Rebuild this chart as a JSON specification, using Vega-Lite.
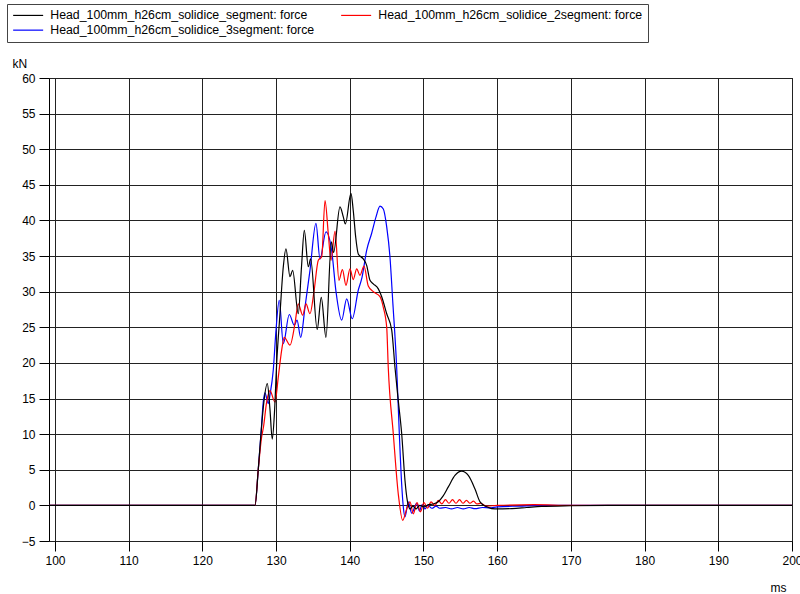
{
  "$schema": "https://vega.github.io/schema/vega-lite/v6.json",
  "width": 743,
  "height": 463,
  "autosize": {"type": "none"},
  "padding": {"left": 49, "top": 78, "right": 8, "bottom": 53},
  "background": "white",
  "config": {"view": {"stroke": "#000", "strokeWidth": 1}, "font": "Liberation Sans"},
  "encoding": {
    "x": {
      "field": "t", "type": "quantitative",
      "scale": {"domain": [99.19, 200], "nice": false, "zero": false},
      "axis": {
        "values": [100, 110, 120, 130, 140, 150, 160, 170, 180, 190, 200],
        "title": "ms", "titleX": 729, "titleY": 46, "titleAlign": "center", "titleBaseline": "middle",
        "titleFontWeight": "normal", "titleFontSize": 12, "titleColor": "#000", "titleFont": "Liberation Sans",
        "grid": true, "gridColor": "#222", "gridWidth": 1, "gridOpacity": 1,
        "domain": false, "ticks": true, "tickSize": 10, "tickColor": "#000",
        "labelFontSize": 12, "labelColor": "#000", "labelPadding": 4, "labelFont": "Liberation Sans", "labelFlush": false
      }
    },
    "y": {
      "field": "v", "type": "quantitative",
      "scale": {"domain": [-5, 60], "nice": false, "zero": false},
      "axis": {
        "values": [-5, 0, 5, 10, 15, 20, 25, 30, 35, 40, 45, 50, 55, 60],
        "title": "kN", "titleAngle": 0, "titleX": -37, "titleY": -15, "titleAlign": "left", "titleBaseline": "middle",
        "titleFontWeight": "normal", "titleFontSize": 12, "titleColor": "#000", "titleFont": "Liberation Sans",
        "grid": true, "gridColor": "#222", "gridWidth": 1, "gridOpacity": 1,
        "domain": false, "ticks": true, "tickSize": 10, "tickColor": "#000",
        "labelFontSize": 12, "labelColor": "#000", "labelPadding": 4, "labelFont": "Liberation Sans", "labelFlush": false
      }
    }
  },
  "layer": [
    {
      "data": {"values": [
        {"t": 99.19, "v": 0}, {"t": 110, "v": 0}, {"t": 120, "v": 0}, {"t": 127.14, "v": 0},
        {"t": 127.58, "v": 5}, {"t": 127.95, "v": 10}, {"t": 128.26, "v": 14.5}, {"t": 128.49, "v": 15.8},
        {"t": 128.94, "v": 14.3}, {"t": 129.17, "v": 15.5}, {"t": 129.62, "v": 19}, {"t": 129.99, "v": 24.6},
        {"t": 130.43, "v": 28.8}, {"t": 130.98, "v": 22.7}, {"t": 131.79, "v": 26.8}, {"t": 132.47, "v": 25.3},
        {"t": 132.84, "v": 26}, {"t": 133.34, "v": 23.6}, {"t": 133.92, "v": 27.8}, {"t": 134.6, "v": 33},
        {"t": 135.41, "v": 39.6}, {"t": 135.96, "v": 34.6}, {"t": 136.77, "v": 38.4}, {"t": 137.54, "v": 35.8},
        {"t": 138.13, "v": 30}, {"t": 138.9, "v": 26}, {"t": 139.58, "v": 29}, {"t": 140.34, "v": 26.2},
        {"t": 141.15, "v": 30.2}, {"t": 141.66, "v": 32}, {"t": 142.29, "v": 35.8}, {"t": 142.97, "v": 38.2},
        {"t": 143.56, "v": 40.5}, {"t": 144.1, "v": 42}, {"t": 144.55, "v": 41.6}, {"t": 145.01, "v": 39.1},
        {"t": 145.45, "v": 34.9}, {"t": 145.82, "v": 28.8}, {"t": 146.36, "v": 19.4}, {"t": 146.72, "v": 10.1},
        {"t": 147.04, "v": 3}, {"t": 147.26, "v": -0.2}, {"t": 147.49, "v": -1.6}, {"t": 147.94, "v": 0.5},
        {"t": 148.4, "v": -1.1}, {"t": 149.08, "v": 0.3}, {"t": 149.46, "v": -0.8}, {"t": 149.8, "v": 0.1},
        {"t": 150.2, "v": -0.5}, {"t": 150.6, "v": 0}, {"t": 151.15, "v": -0.4}, {"t": 151.7, "v": -0.1},
        {"t": 152.2, "v": -0.4}, {"t": 153, "v": -0.3}, {"t": 153.8, "v": -0.5}, {"t": 154.6, "v": -0.3},
        {"t": 155.4, "v": -0.5}, {"t": 156.2, "v": -0.3}, {"t": 157, "v": -0.45}, {"t": 158, "v": -0.3},
        {"t": 159, "v": -0.35}, {"t": 160, "v": -0.2}, {"t": 163, "v": -0.1}, {"t": 167, "v": 0},
        {"t": 180, "v": 0}, {"t": 200, "v": 0}
      ]},
      "mark": {"type": "line", "strokeWidth": 1.2, "interpolate": "monotone"},
      "encoding": {
        "color": {
          "datum": "Head_100mm_h26cm_solidice_3segment: force", "type": "nominal",
          "scale": {
            "domain": ["Head_100mm_h26cm_solidice_segment: force", "Head_100mm_h26cm_solidice_2segment: force", "Head_100mm_h26cm_solidice_3segment: force"],
            "range": ["#000000", "#ff0000", "#0000ff"]
          },
          "legend": {
            "orient": "none", "legendX": -42, "legendY": -74, "columns": 2, "direction": "horizontal", "title": null,
            "symbolType": "M-1,0H5", "symbolSize": 100, "symbolStrokeWidth": 1.2,
            "labelFontSize": 12.3, "labelFont": "Liberation Sans", "labelColor": "#000", "labelOffset": 26,
            "labelLimit": 400, "columnPadding": 23, "rowPadding": 2, "padding": 5,
            "strokeColor": "#444", "fillColor": "white", "gridAlign": "all"
          }
        }
      }
    },
    {
      "data": {"values": [
        {"t": 99.19, "v": 0}, {"t": 110, "v": 0}, {"t": 120, "v": 0}, {"t": 127.14, "v": 0},
        {"t": 127.58, "v": 5}, {"t": 128.04, "v": 9.6}, {"t": 128.29, "v": 11}, {"t": 128.72, "v": 14.5},
        {"t": 129.17, "v": 16.1}, {"t": 129.85, "v": 14.5}, {"t": 130.3, "v": 18}, {"t": 130.76, "v": 21.8},
        {"t": 131.11, "v": 23.6}, {"t": 131.89, "v": 22.5}, {"t": 132.56, "v": 25.5}, {"t": 133.01, "v": 28.3},
        {"t": 133.61, "v": 26.7}, {"t": 134.06, "v": 28.3}, {"t": 134.6, "v": 26.9}, {"t": 135.14, "v": 30},
        {"t": 135.73, "v": 34.4}, {"t": 136.19, "v": 34.9}, {"t": 136.64, "v": 42.8}, {"t": 137.08, "v": 38.2},
        {"t": 137.45, "v": 34.4}, {"t": 138, "v": 38.5}, {"t": 138.53, "v": 31.6}, {"t": 139, "v": 33.1},
        {"t": 139.48, "v": 30.9}, {"t": 140.03, "v": 33.2}, {"t": 140.47, "v": 31.7}, {"t": 140.94, "v": 33.2},
        {"t": 141.38, "v": 32.3}, {"t": 141.93, "v": 33.6}, {"t": 142.51, "v": 30.8}, {"t": 143.19, "v": 30},
        {"t": 144.1, "v": 29.3}, {"t": 144.55, "v": 27.8}, {"t": 145.01, "v": 25}, {"t": 145.22, "v": 19.4},
        {"t": 145.9, "v": 10.1}, {"t": 146.58, "v": 1.6}, {"t": 147.18, "v": -2.1}, {"t": 147.72, "v": -0.5},
        {"t": 148.17, "v": 0.5}, {"t": 148.62, "v": -1.2}, {"t": 149.12, "v": 0.4}, {"t": 149.59, "v": -0.9},
        {"t": 150.07, "v": 0.4}, {"t": 150.54, "v": -0.4}, {"t": 151.02, "v": 0.5}, {"t": 151.56, "v": 0},
        {"t": 152, "v": 0.7}, {"t": 152.5, "v": 0.2}, {"t": 152.98, "v": 0.8}, {"t": 153.46, "v": 0.3},
        {"t": 153.94, "v": 0.8}, {"t": 154.41, "v": 0.3}, {"t": 154.89, "v": 0.8}, {"t": 155.36, "v": 0.3},
        {"t": 155.83, "v": 0.7}, {"t": 156.31, "v": 0.3}, {"t": 156.79, "v": 0.6}, {"t": 157.26, "v": 0.2},
        {"t": 157.8, "v": 0.3}, {"t": 158.48, "v": -0.1}, {"t": 160, "v": 0}, {"t": 165, "v": 0.1},
        {"t": 170, "v": 0}, {"t": 200, "v": 0}
      ]},
      "mark": {"type": "line", "strokeWidth": 1.2, "interpolate": "monotone"},
      "encoding": {"color": {"datum": "Head_100mm_h26cm_solidice_2segment: force", "type": "nominal"}}
    },
    {
      "data": {"values": [
        {"t": 99.19, "v": 0}, {"t": 110, "v": 0}, {"t": 120, "v": 0}, {"t": 127.14, "v": 0},
        {"t": 127.58, "v": 5}, {"t": 127.95, "v": 10}, {"t": 128.29, "v": 14}, {"t": 128.81, "v": 17.1},
        {"t": 129.17, "v": 13.5}, {"t": 129.48, "v": 9.3}, {"t": 129.78, "v": 13}, {"t": 130.08, "v": 19.9},
        {"t": 130.53, "v": 26.9}, {"t": 130.98, "v": 33.5}, {"t": 131.34, "v": 36}, {"t": 131.89, "v": 32.1},
        {"t": 132.25, "v": 33}, {"t": 133.01, "v": 26.9}, {"t": 133.45, "v": 33.5}, {"t": 133.83, "v": 38.6},
        {"t": 134.37, "v": 33.5}, {"t": 134.69, "v": 34.6}, {"t": 135.58, "v": 24.7}, {"t": 136.13, "v": 29.2},
        {"t": 136.77, "v": 23.6}, {"t": 137.5, "v": 37}, {"t": 137.8, "v": 35.5}, {"t": 138.67, "v": 41.9},
        {"t": 139.12, "v": 40.5}, {"t": 139.4, "v": 39.5}, {"t": 140.16, "v": 43.8}, {"t": 140.47, "v": 41.4},
        {"t": 140.8, "v": 37.7}, {"t": 141.15, "v": 35.3}, {"t": 141.83, "v": 34.6}, {"t": 142.29, "v": 33.7},
        {"t": 142.74, "v": 31.6}, {"t": 143.19, "v": 31.1}, {"t": 143.87, "v": 30.4}, {"t": 144.33, "v": 29.3},
        {"t": 145.01, "v": 26.9}, {"t": 145.69, "v": 24.6}, {"t": 146.13, "v": 19.4}, {"t": 146.58, "v": 14.7},
        {"t": 147.04, "v": 10.1}, {"t": 147.49, "v": 3.5}, {"t": 147.8, "v": 0.7}, {"t": 148.17, "v": -0.5},
        {"t": 148.58, "v": -0.1}, {"t": 148.98, "v": -0.5}, {"t": 149.5, "v": 0}, {"t": 150.07, "v": -0.2},
        {"t": 150.65, "v": 0.1}, {"t": 151.3, "v": 0.2}, {"t": 152, "v": 0.5}, {"t": 152.65, "v": 1.3},
        {"t": 153.37, "v": 2.6}, {"t": 154.27, "v": 4.2}, {"t": 155.18, "v": 4.8}, {"t": 156.08, "v": 4.2},
        {"t": 156.99, "v": 2.3}, {"t": 157.67, "v": 0.5}, {"t": 158.58, "v": -0.2}, {"t": 159.7, "v": -0.5},
        {"t": 162, "v": -0.45}, {"t": 164, "v": -0.3}, {"t": 166, "v": -0.15}, {"t": 170, "v": -0.05},
        {"t": 175, "v": 0}, {"t": 200, "v": 0}
      ]},
      "mark": {"type": "line", "strokeWidth": 1.2, "interpolate": "monotone"},
      "encoding": {"color": {"datum": "Head_100mm_h26cm_solidice_segment: force", "type": "nominal"}}
    }
  ]
}
